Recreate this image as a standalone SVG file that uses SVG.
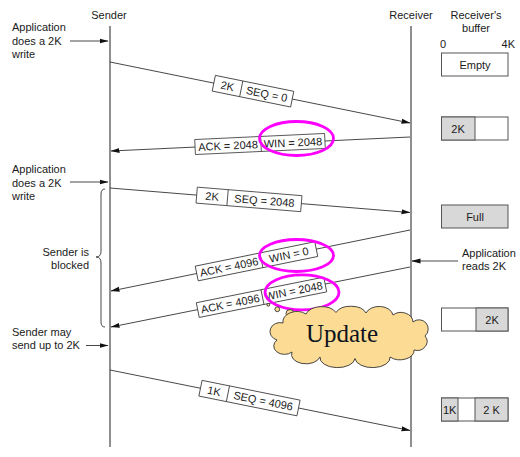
<svg xmlns="http://www.w3.org/2000/svg" width="520" height="457" viewBox="0 0 520 457">
<defs>
<marker id="ah" markerWidth="9" markerHeight="6" refX="8.5" refY="3" orient="auto" markerUnits="userSpaceOnUse">
<path d="M0,0.5 L9,3 L0,5.5 z" fill="#111"/>
</marker>
<style>
text{font-family:"Liberation Sans",Arial,sans-serif;font-size:11px;fill:#1a1a1a}
.life{stroke:#333;stroke-width:1.1;fill:none}
.msg{stroke:#333;stroke-width:0.9;fill:none;marker-end:url(#ah)}
.lbl rect{fill:#fff;stroke:#333;stroke-width:0.8}
.lbl line{stroke:#333;stroke-width:0.8}
.mid{text-anchor:middle}
.end{text-anchor:end}
.buf{stroke:#555;stroke-width:1;fill:#fff}
.g{fill:#d8d8d8}
.hl{fill:none;stroke:#ff00ff;stroke-width:2.8}
.cl{fill:#fcdc94;stroke:#333;stroke-width:0.9}
</style>
</defs>
<rect width="520" height="457" fill="#fff"/>

<g id="headers">
<text x="109" y="19" class="mid">Sender</text>
<text x="411" y="19" class="mid">Receiver</text>
<text x="476" y="19" class="mid">Receiver's</text>
<text x="476" y="32" class="mid">buffer</text>
<text x="440" y="48">0</text>
<text x="515" y="48" class="end">4K</text>
</g>

<g id="sender-lifeline"><line class="life" x1="110" y1="26" x2="110" y2="447"/></g>
<g id="receiver-lifeline"><line class="life" x1="411" y1="26" x2="411" y2="447"/></g>

<g id="connectors">
<line class="msg" x1="110" y1="62" x2="410" y2="123"/>
<line class="msg" x1="410" y1="137" x2="111" y2="151"/>
<line class="msg" x1="110" y1="188" x2="410" y2="212.5"/>
<line class="msg" x1="410" y1="230" x2="111" y2="291"/>
<line class="msg" x1="410" y1="267" x2="111" y2="327"/>
<line class="msg" x1="110" y1="370" x2="410" y2="430.5"/>
<line class="msg" x1="70" y1="41" x2="108" y2="41"/>
<line class="msg" x1="70" y1="182" x2="108" y2="182"/>
<line class="msg" x1="86" y1="345.5" x2="108" y2="345.5"/>
<line class="msg" x1="458" y1="261" x2="412" y2="261"/>
</g>

<g id="app-write-1">
<text x="12" y="31">Application</text>
<text x="12" y="45">does a 2K</text>
<text x="12" y="58">write</text>
</g>
<g id="app-write-2">
<text x="12" y="173">Application</text>
<text x="12" y="186.5">does a 2K</text>
<text x="12" y="200">write</text>
</g>
<g id="sender-blocked">
<path d="M105,189 Q101,189 101,194 L101,251 Q101,257 96,257 Q101,257 101,263 L101,322 Q101,327 105,327" fill="none" stroke="#333" stroke-width="0.9"/>
<text x="89" y="256" class="end">Sender is</text>
<text x="89" y="269" class="end">blocked</text>
</g>
<g id="sender-may">
<text x="12" y="336">Sender may</text>
<text x="12" y="349">send up to 2K</text>
</g>
<g id="app-reads">
<text x="462" y="257">Application</text>
<text x="462" y="270">reads 2K</text>
</g>

<g id="seg1" class="lbl" transform="translate(253,91.2) rotate(11.49)">
<rect x="-40" y="-8" width="80" height="16"/>
<line x1="-12" y1="-8" x2="-12" y2="8"/>
<text x="-26" y="4" class="mid">2K</text>
<text x="14" y="4" class="mid">SEQ = 0</text>
</g>
<g id="ack1" class="lbl" transform="translate(260,144) rotate(-2.67)">
<rect x="-65" y="-7.5" width="130" height="15"/>
<line x1="1" y1="-7.5" x2="1" y2="7.5"/>
<text x="-32" y="4" class="mid">ACK = 2048</text>
<text x="33" y="4" class="mid">WIN = 2048</text>
</g>
<g id="seg2" class="lbl" transform="translate(249,199.4) rotate(4.67)">
<rect x="-52.5" y="-8" width="105" height="16"/>
<line x1="-21.5" y1="-8" x2="-21.5" y2="8"/>
<text x="-37" y="4" class="mid">2K</text>
<text x="15.5" y="4" class="mid">SEQ = 2048</text>
</g>
<g id="ack2" class="lbl" transform="translate(256.5,261.3) rotate(-11.53)">
<rect x="-61" y="-7.5" width="122" height="15"/>
<line x1="5" y1="-7.5" x2="5" y2="7.5"/>
<text x="-28" y="4" class="mid">ACK = 4096</text>
<text x="33" y="4" class="mid">WIN = 0</text>
</g>
<g id="ack3" class="lbl" transform="translate(261.5,297.3) rotate(-11.35)">
<rect x="-65" y="-7.5" width="130" height="15"/>
<line x1="1" y1="-7.5" x2="1" y2="7.5"/>
<text x="-32" y="4" class="mid">ACK = 4096</text>
<text x="33" y="4" class="mid">WIN = 2048</text>
</g>
<g id="seg3" class="lbl" transform="translate(249.5,398.1) rotate(11.4)">
<rect x="-50" y="-8" width="100" height="16"/>
<line x1="-22" y1="-8" x2="-22" y2="8"/>
<text x="-36" y="4" class="mid">1K</text>
<text x="14" y="4" class="mid">SEQ = 4096</text>
</g>

<g id="highlights">
<ellipse class="hl" cx="296.5" cy="138.5" rx="37" ry="17"/>
<ellipse class="hl" cx="296.5" cy="255.5" rx="37" ry="16"/>
<ellipse class="hl" cx="302" cy="292.3" rx="37" ry="17.5"/>
</g>

<g id="update-cloud">
<circle class="cl" cx="268.3" cy="304.8" r="1.4"/>
<circle class="cl" cx="277.3" cy="309.3" r="2.4"/>
<circle class="cl" cx="290" cy="313.5" r="4"/>
<path class="cl" d="M277,340 A9,8 0 0 1 283,323 A14,10 0 0 1 306,314 A16,10 0 0 1 336,312.5 A16,10 0 0 1 366,313 A14,10 0 0 1 393,315 A12,10 0 0 1 413,322 A9,9 0 0 1 425,336 A10,9 0 0 1 414,350 A14,9 0 0 1 390,357 A16,9 0 0 1 355,358.5 A16,9 0 0 1 320,357 A14,9 0 0 1 292,352 A9,7 0 0 1 277,340 Z"/>
<text x="342" y="342" class="mid" style="font-family:'Liberation Serif','Times New Roman',serif;font-size:25px;fill:#0d1420">Update</text>
</g>

<g id="buf-empty">
<rect class="buf" x="441.5" y="53" width="66.5" height="23"/>
<text x="475" y="68.5" class="mid">Empty</text>
</g>
<g id="buf-2k">
<rect class="buf" x="441.5" y="117" width="66.5" height="23"/>
<rect class="buf g" x="441.5" y="117" width="33.5" height="23"/>
<text x="458" y="132.5" class="mid">2K</text>
</g>
<g id="buf-full">
<rect class="buf g" x="441.5" y="205" width="66.5" height="23"/>
<text x="475" y="220.5" class="mid">Full</text>
</g>
<g id="buf-2k-right">
<rect class="buf" x="441.5" y="308" width="66.5" height="23"/>
<rect class="buf g" x="476" y="308" width="32" height="23"/>
<text x="492" y="323.5" class="mid">2K</text>
</g>
<g id="buf-1k-2k">
<rect class="buf" x="441.5" y="398" width="66.5" height="23"/>
<rect class="buf g" x="441.5" y="398" width="16.5" height="23"/>
<rect class="buf g" x="475" y="398" width="33" height="23"/>
<text x="449.7" y="413.5" class="mid">1K</text>
<text x="491.5" y="413.5" class="mid">2 K</text>
</g>
</svg>
